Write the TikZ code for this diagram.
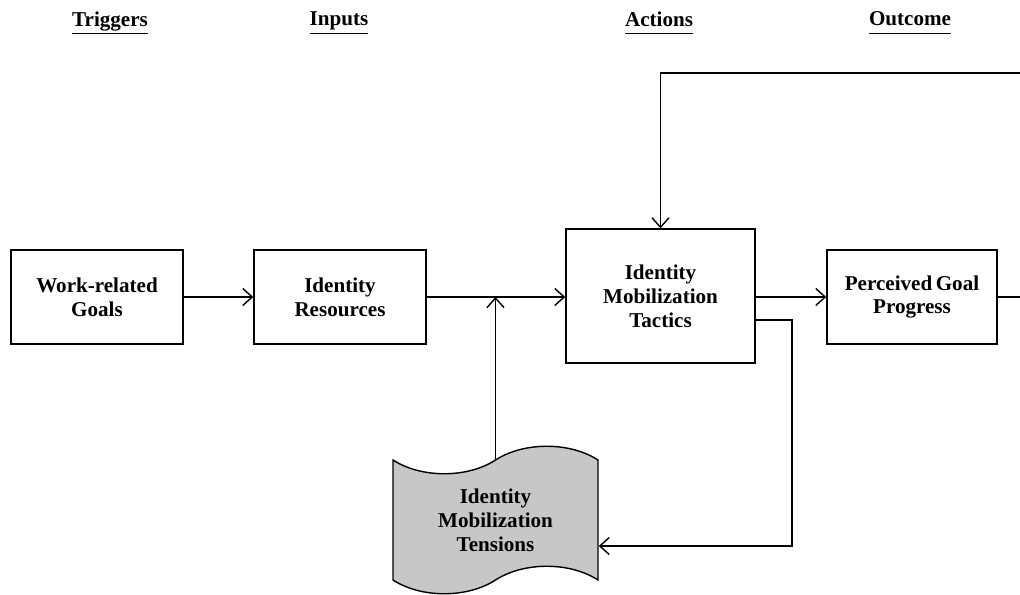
\documentclass[tikz,border=0pt]{standalone}
\usepackage{fontspec}
\setmainfont{Liberation Serif}
\usepackage{tikz}
\usetikzlibrary{arrows.meta,positioning,calc,shapes.symbols}

\begin{document}
\begin{tikzpicture}[every node/.style={font=\bfseries\fontsize{12}{13.6}\selectfont}, box/.style={draw,line width=0.8pt,align=center,minimum width=3.44cm,minimum height=1.88cm}, conn/.style={draw,line width=0.8pt,-{Straight Barb[length=1.9mm,width=3.4mm]}}]
    \useasboundingbox (0,0) rectangle (20.4,-11.88);
    \foreach \x/\lab/\nm in {2.2/Triggers/htrig,6.78/Inputs/hinp,13.18/Actions/hact,18.2/Outcome/hout}{
      \node (\nm) at (\x,-0.46) {\underline{\vphantom{g}\lab}};
    }
    \node[box] (goals) at (1.94,-5.94) {Work-related\\Goals};
    \node[box] (resources) at (6.8,-5.94) {Identity\\Resources};
    \node[box,minimum width=3.78cm,minimum height=2.68cm] (tactics) at (13.21,-5.92) {Identity\\Mobilization\\Tactics};
    \node[box,minimum width=3.4cm] (progress) at (18.24,-5.94) {Perceived\,Goal\\Progress};
    \node[tape,draw,line width=0.8pt,fill=black!22,align=center,minimum width=4.1cm,minimum height=2.95cm,tape bend height=0.55cm] (tensions) at (9.91,-10.4) {Identity\\Mobilization\\Tensions};
    % links
    \coordinate (join) at (tensions.north |- resources.east);
    \coordinate (edgeA) at (20.4,-5.94);
    \coordinate (edgeB) at (20.4,-1.46);
    \coordinate (turn) at (15.84,-6.4);
    \coordinate (back) at (15.84,-10.92);
    \draw[conn] (goals) -- (resources);
    \draw[conn] (resources) -- (tactics.west |- resources.east);
    \draw[conn] (tactics.east |- progress.west) -- (progress);
    \draw[line width=0.8pt] (progress) -- (edgeA);
    \draw[conn] (edgeB) -| (tactics.north);
    \draw[conn] (tensions.north) -- (join);
    \draw[conn] (tactics.east |- turn) -- (turn) -- (back) -- (tensions.east |- back);
\end{tikzpicture}
\end{document}
